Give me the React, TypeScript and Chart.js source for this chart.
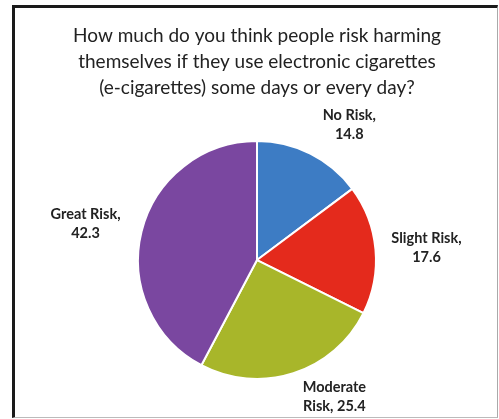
import React, { useEffect, useRef } from "react";
import { Chart, registerables } from "chart.js";

Chart.register(...registerables);

const titleLines = [
  "How much do you think people risk harming",
  "themselves if they use electronic cigarettes",
  "(e-cigarettes) some days or every day?",
];
const categories = ["No Risk", "Slight Risk", "Moderate Risk", "Great Risk"];
const values = [14.8, 17.6, 25.4, 42.3];
const colors = ["#3d7cc4", "#e42a1c", "#a8b62a", "#7a47a0"];
const labelLines = [
  ["No Risk,", "14.8"],
  ["Slight Risk,", "17.6"],
  ["Moderate", "Risk, 25.4"],
  ["Great Risk,", "42.3"],
];
const labelOffsets = [
  [39, -29],
  [51, -2],
  [41, 24],
  [-56, -8],
];

const FONT = "Lato, 'Open Sans', sans-serif";

const outsideLabels = {
  id: "outsideLabels",
  afterDatasetsDraw(chart: any) {
    const ctx = chart.ctx;
    const meta = chart.getDatasetMeta(0);
    ctx.save();
    ctx.font = `bold 14.5px ${FONT}`;
    ctx.fillStyle = "#222";
    ctx.textAlign = "center";
    ctx.textBaseline = "middle";
    meta.data.forEach((arc: any, i: number) => {
      const p = arc.getProps(["x", "y", "startAngle", "endAngle", "outerRadius"], true);
      const mid = (p.startAngle + p.endAngle) / 2;
      const ax = p.x + Math.cos(mid) * p.outerRadius + labelOffsets[i][0];
      const ay = p.y + Math.sin(mid) * p.outerRadius + labelOffsets[i][1];
      const lines = labelLines[i];
      const lh = 19;
      lines.forEach((t, j) => {
        ctx.fillText(t, ax, ay + (j - (lines.length - 1) / 2) * lh);
      });
    });
    ctx.restore();
  },
};

export default function App() {
  const ref = useRef<HTMLCanvasElement>(null);
  useEffect(() => {
    if (!ref.current) return;
    const chart = new Chart(ref.current, {
      type: "pie",
      data: {
        labels: categories,
        datasets: [
          {
            data: values,
            backgroundColor: colors,
            borderColor: "#ffffff",
            borderWidth: 2,
          },
        ],
      },
      options: {
        animation: false,
        responsive: false,
        maintainAspectRatio: false,
        layout: { padding: { left: 20, right: 5, top: 0, bottom: 39 } },
        plugins: {
          legend: { display: false },
          tooltip: { enabled: false },
          title: {
            display: true,
            text: titleLines,
            color: "#222",
            font: { family: FONT, size: 19, weight: "normal", lineHeight: 1.37 },
            padding: { top: 23, bottom: 39 },
          },
        },
      },
      plugins: [outsideLabels],
    });
    return () => chart.destroy();
  }, []);
  return (
    <div style={{ position: "absolute", left: 0, top: 0, width: 499, height: 419, background: "#fff" }}>
      <canvas ref={ref} width={499} height={419} style={{ position: "absolute", left: 0, top: 0 }} />
      <div
        style={{
          position: "absolute",
          left: 12,
          top: 5,
          width: 486,
          height: 413,
          boxSizing: "border-box",
          borderLeft: "3px solid #1a1a1a",
          borderTop: "3px solid #1a1a1a",
          borderRight: "1px solid #aaa",
          borderBottom: "1px solid #bbb",
          pointerEvents: "none",
        }}
      />
    </div>
  );
}
